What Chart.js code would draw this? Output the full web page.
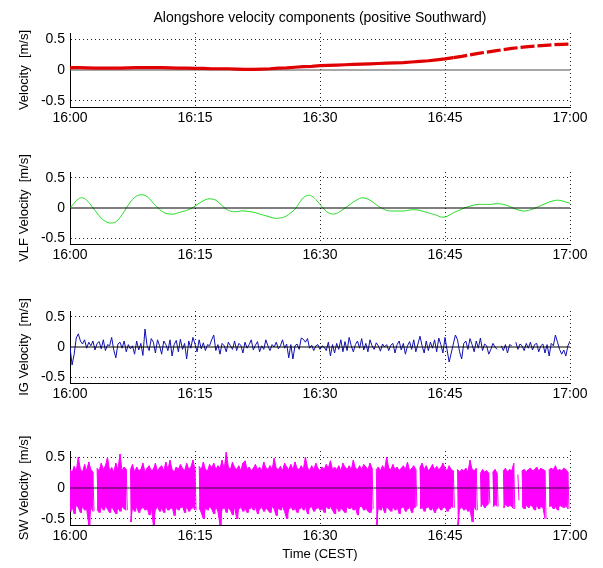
<!DOCTYPE html>
<html>
<head>
<meta charset="utf-8">
<script src="https://cdn.jsdelivr.net/npm/chart.js@4.4.1/dist/chart.umd.min.js"></script>
<style>
html,body{margin:0;padding:0;background:#fff;}
#wrap{position:relative;width:603px;height:568px;overflow:hidden;background:#fff;}
canvas{position:absolute;left:0;}
</style>
</head>
<body>
<div id="wrap">
<canvas id="c1" width="603" height="140" style="top:0px"></canvas>
<canvas id="c2" width="603" height="140" style="top:139px"></canvas>
<canvas id="c3" width="603" height="140" style="top:278px"></canvas>
<canvas id="c4" width="603" height="150" style="top:418px"></canvas>
</div>
<script>
// ---------- DATA ----------
const chartTitle = 'Alongshore velocity components (positive Southward)';
const timeLabels = ['16:00','16:15','16:30','16:45','17:00'];
const timeTickMinutes = [0, 15, 30, 45, 60];
const yTickValues = [-0.5, 0, 0.5];
const zeroLevel = 0;

// Mean alongshore velocity, one value per minute (16:00..17:00)
const velMean = [0.04,0.04,0.035,0.03,0.03,0.03,0.03,0.035,0.04,0.04,
 0.04,0.04,0.035,0.03,0.03,0.025,0.025,0.02,0.02,0.02,
 0.015,0.01,0.01,0.015,0.02,0.03,0.035,0.045,0.055,0.06,
 0.07,0.075,0.08,0.085,0.09,0.095,0.10,0.105,0.11,0.115,
 0.12,0.13,0.14,0.15,0.165,0.18,0.20,0.22,0.245,0.27,
 0.29,0.31,0.33,0.35,0.365,0.38,0.39,0.40,0.41,0.415,0.42];

// VLF velocity, one value per half minute
const velVLF = [0.0,0.08,0.15,0.17,0.13,0.05,-0.04,-0.13,-0.20,-0.24,
 -0.25,-0.23,-0.16,-0.06,0.05,0.14,0.20,0.22,0.21,0.16,
 0.08,0.01,-0.05,-0.09,-0.10,-0.10,-0.08,-0.06,-0.04,-0.01,
 0.03,0.08,0.12,0.15,0.15,0.13,0.07,0.01,-0.04,-0.06,
 -0.06,-0.05,-0.05,-0.06,-0.07,-0.09,-0.11,-0.13,-0.15,-0.17,
 -0.17,-0.16,-0.13,-0.08,-0.02,0.08,0.17,0.21,0.20,0.14,
 0.06,-0.02,-0.08,-0.10,-0.09,-0.05,0.00,0.05,0.10,0.14,
 0.17,0.16,0.13,0.08,0.03,-0.01,-0.04,-0.05,-0.05,-0.05,
 -0.05,-0.04,-0.03,-0.03,-0.04,-0.06,-0.08,-0.10,-0.12,-0.15,
 -0.15,-0.12,-0.08,-0.05,-0.02,0.01,0.03,0.05,0.06,0.06,
 0.06,0.06,0.07,0.07,0.06,0.04,0.01,-0.02,-0.04,-0.05,
 -0.04,-0.02,0.01,0.04,0.07,0.10,0.12,0.13,0.12,0.10,0.08];

// IG velocity, one value per quarter minute
const velIG = [
 0.00,-0.30,-0.12,0.15,  0.22,0.10,0.05,0.12,  -0.02,0.08,0.02,0.10,  -0.05,0.06,0.09,-0.03,
 0.12,-0.06,0.04,0.02,   0.16,-0.05,-0.18,0.05, 0.08,-0.02,0.10,-0.08,  0.04,-0.03,0.02,-0.12,
 0.10,-0.05,0.06,-0.14,  0.30,0.02,-0.06,0.14,  0.08,-0.10,0.12,0.02,   -0.12,0.10,0.04,-0.06,
 0.12,-0.15,0.04,0.11,   -0.08,0.13,-0.04,0.06, -0.20,0.10,-0.02,0.16,  0.05,-0.08,0.12,-0.03,
 0.07,-0.06,0.04,0.02,   0.12,0.20,-0.06,0.04,  -0.12,0.06,0.02,-0.08,  0.08,0.02,-0.04,0.10,
 -0.06,0.06,0.03,-0.10,  0.08,-0.02,0.04,0.12,  -0.05,0.03,0.09,-0.08,  0.02,-0.04,0.12,0.02,
 -0.06,0.04,0.00,0.08,   -0.03,0.02,0.12,-0.02, 0.05,-0.18,0.04,-0.20,  0.02,0.05,-0.04,0.15,
 0.13,0.08,0.14,-0.02,   0.03,-0.06,0.02,0.04,  -0.04,0.02,0.00,-0.06,  0.08,-0.15,0.04,-0.10,
 0.06,-0.04,0.12,-0.08,  0.09,-0.06,0.16,0.02,  -0.08,0.04,0.10,-0.02,  0.14,-0.05,0.06,-0.08,
 0.12,0.02,-0.04,0.07,   0.02,-0.07,0.05,0.00,  0.04,-0.06,0.03,0.06,   -0.10,0.04,0.10,-0.05,
 0.06,-0.12,0.02,0.09,   -0.04,0.12,-0.08,0.05, 0.18,0.02,-0.10,0.10,   -0.06,0.08,-0.02,0.12,
 -0.08,0.15,0.04,-0.10,  0.16,-0.05,-0.25,-0.10, 0.05,0.20,0.12,-0.08,  -0.20,0.06,0.10,-0.04,
 0.14,0.04,-0.08,0.10,   -0.02,0.15,-0.06,0.05, 0.02,-0.12,-0.04,0.06,  0.00,-0.04,null,0.02,
 -0.06,0.04,-0.10,0.04,  0.02,null,0.08,-0.04,  0.05,0.02,-0.06,0.06,   -0.02,0.08,-0.05,0.04,
 0.06,-0.08,0.02,0.05,   -0.10,0.04,-0.15,0.06, 0.02,0.20,0.08,-0.04,   -0.12,-0.05,-0.15,0.02,
 0.10];

// Short-wave velocity envelope, upper and lower extremes per quarter minute
const swHigh = [
 0.30,0.25,0.35,0.28, 0.50,0.30,0.26,0.38, 0.28,0.42,0.30,0.26, null,0.32,0.28,0.40,
 0.30,0.36,0.50,0.28, 0.33,0.26,0.40,0.30, 0.55,0.28,0.34,0.30, null,0.30,0.38,0.26,
 0.34,0.28,0.30,0.40, 0.26,0.32,0.36,0.28, 0.30,0.40,0.27,0.33, 0.36,0.28,0.42,0.30,
 0.45,0.30,0.26,0.34, 0.30,0.38,0.32,0.28, 0.40,0.30,0.34,0.45, 0.30,null,0.35,0.30,
 0.42,0.30,0.28,0.38, 0.33,0.40,0.30,0.36, 0.32,0.45,0.30,0.58, 0.34,0.30,0.42,0.33,
 0.30,0.36,0.28,0.40, 0.44,0.30,0.34,0.28, 0.32,0.38,0.30,0.34, 0.28,0.42,0.33,0.30,
 0.36,0.30,0.48,0.32, 0.30,0.35,0.28,0.40, 0.34,0.30,0.38,0.30, 0.42,0.32,0.30,0.36,
 0.30,0.50,0.33,0.28, 0.36,0.30,0.40,0.32, 0.28,0.34,0.30,0.38, 0.32,0.44,0.30,0.34,
 0.30,0.36,0.28,0.40, 0.34,0.30,0.36,0.30, 0.45,0.32,0.30,0.36, 0.30,0.38,0.34,0.30,
 0.40,0.32,null,0.30, 0.34,0.28,0.36,0.30, 0.50,0.32,0.30,0.38, 0.30,0.34,0.28,0.32,
 0.36,0.30,0.42,0.28, 0.32,0.36,0.30,null, 0.34,0.40,0.30,0.36, 0.28,0.32,0.38,0.30,
 0.35,0.30,0.33,0.40, 0.32,0.28,0.36,0.30, 0.28,null,0.30,0.26, 0.30,0.28,0.32,0.26,
 0.45,0.30,0.28,0.32, null,0.24,0.30,0.26, 0.28,0.24,null,0.26, 0.30,0.24,null,null,
 0.28,0.32,0.26,0.30, 0.28,0.40,null,0.22, null,0.28,0.30,0.26, 0.30,0.32,0.28,0.30,
 0.34,0.28,0.32,0.30, 0.28,null,0.30,0.32, 0.30,0.36,0.28,0.30, 0.28,0.32,0.30,0.26];
const swLow = [
 -0.38,-0.30,-0.42,-0.28, -0.32,-0.40,-0.30,-0.36, -0.34,-0.60,-0.30,-0.38, null,-0.35,-0.40,-0.30,
 -0.36,-0.30,-0.34,-0.40, -0.30,-0.36,-0.42,-0.32, -0.38,-0.30,-0.34,-0.36, null,-0.55,-0.32,-0.38,
 -0.30,-0.40,-0.34,-0.30, -0.36,-0.32,-0.44,-0.30, -0.60,-0.34,-0.30,-0.38, -0.32,-0.40,-0.30,-0.36,
 -0.34,-0.30,-0.45,-0.32, -0.36,-0.32,-0.30,-0.40, -0.30,-0.38,-0.34,-0.30, -0.36,null,-0.32,-0.40,
 -0.50,-0.32,-0.36,-0.30, -0.34,-0.42,-0.30,-0.38, -0.60,-0.34,-0.30,-0.40, -0.32,-0.36,-0.44,-0.30,
 -0.50,-0.34,-0.30,-0.38, -0.32,-0.40,-0.34,-0.30, -0.36,-0.30,-0.42,-0.34, -0.30,-0.38,-0.32,-0.36,
 -0.40,-0.30,-0.34,-0.45, -0.32,-0.36,-0.30,-0.38, -0.50,-0.34,-0.30,-0.36, -0.32,-0.40,-0.34,-0.30,
 -0.36,-0.30,-0.42,-0.32, -0.30,-0.38,-0.34,-0.30, -0.36,-0.32,-0.40,-0.30, -0.34,-0.30,-0.36,-0.42,
 -0.30,-0.38,-0.32,-0.36, -0.40,-0.30,-0.34,-0.30, -0.36,-0.32,-0.44,-0.30, -0.30,-0.36,-0.32,-0.38,
 -0.40,-0.34,null,-0.60, -0.32,-0.36,-0.30,-0.40, -0.30,-0.34,-0.38,-0.30, -0.36,-0.30,-0.42,-0.32,
 -0.30,-0.38,-0.34,-0.30, -0.40,-0.32,-0.30,null, -0.34,-0.30,-0.38,-0.32, -0.30,-0.36,-0.32,-0.40,
 -0.34,-0.30,-0.36,-0.32, -0.30,-0.38,-0.34,-0.30, -0.32,null,-0.60,-0.34, -0.30,-0.36,-0.32,-0.38,
 -0.34,-0.55,-0.30,-0.36, null,-0.30,-0.26,-0.32, -0.28,-0.24,null,-0.30, -0.26,-0.30,null,null,
 -0.32,-0.26,-0.30,-0.28, -0.30,-0.34,null,-0.20, null,-0.30,-0.34,-0.28, -0.32,-0.28,-0.30,-0.36,
 -0.28,-0.34,-0.30,-0.32, -0.50,null,-0.30,-0.28, -0.34,-0.30,-0.36,-0.28, -0.30,-0.32,-0.28,-0.34];

// ---------- BUILD ----------
const FONT = "'Liberation Sans', Arial, Helvetica, sans-serif";
const toXY = (arr, step) => arr.map((v, i) => ({x: i * step, y: v}));
const swData = [];
swHigh.forEach((h, i) => {
  swData.push({x: i * 0.25, y: h});
  swData.push({x: i * 0.25 + 0.125, y: swLow[i]});
});
const zeroData = [{x: timeTickMinutes[0], y: zeroLevel}, {x: timeTickMinutes[timeTickMinutes.length - 1], y: zeroLevel}];

function zeroSet(color, order) {
  return {data: zeroData, borderColor: color, borderWidth: 1.2, pointRadius: 0, order: order};
}

function makePanel(id, cfg) {
  return new Chart(document.getElementById(id), {
    type: 'line',
    data: {datasets: cfg.datasets},
    options: {
      responsive: false,
      animation: false,
      events: [],
      layout: {padding: {top: cfg.title ? 0 : 33, right: 33, left: 0, bottom: 0}},
      plugins: {
        legend: {display: false},
        tooltip: {enabled: false},
        title: cfg.title ? {
          display: true, text: cfg.title, fullSize: false, color: '#000',
          font: {family: FONT, size: 14, weight: 'normal', lineHeight: 1.2},
          padding: {top: 9.5, bottom: 6.7}
        } : {display: false}
      },
      scales: {
        x: {
          type: 'linear', min: 0, max: 60,
          afterBuildTicks: s => { s.ticks = timeTickMinutes.map(v => ({value: v})); },
          afterFit: s => { s.height = cfg.axisH; },
          ticks: {autoSkip: false, maxRotation: 0, padding: 3, color: '#000',
            font: {family: FONT, size: 14}, callback: (v, i) => timeLabels[i]},
          grid: {drawTicks: false, lineWidth: 1,
            color: c => (c.tick && c.tick.value > 0) ? '#222' : 'rgba(0,0,0,0)'},
          border: {display: true, color: '#000', width: 1, dash: [1, 3]},
          title: cfg.xTitle ? {display: true, text: cfg.xTitle, color: '#000',
            font: {family: FONT, size: 13}, padding: {top: 0, bottom: 6}} : {display: false}
        },
        y: {
          type: 'linear', min: -0.6, max: 0.6,
          afterBuildTicks: s => { s.ticks = yTickValues.map(v => ({value: v})); },
          afterFit: s => { s.width = 70; },
          ticks: {padding: 5, color: '#000', font: {family: FONT, size: 14},
            callback: v => String(v)},
          grid: {drawTicks: false, lineWidth: 1,
            color: c => (c.tick && c.tick.value !== 0) ? '#222' : 'rgba(0,0,0,0)'},
          border: {display: true, color: '#000', width: 1, dash: [1, 3]},
          title: {display: true, text: cfg.yTitle, color: '#000',
            font: {family: FONT, size: 13}, padding: {top: 17, bottom: 0}}
        }
      }
    }
  });
}

makePanel('c1', {
  title: chartTitle, yTitle: 'Velocity  [m/s]', axisH: 33,
  datasets: [
    {data: toXY(velMean, 1), borderColor: '#e00000', borderWidth: 3.2, pointRadius: 0, order: 1,
     segment: {borderDash: c => c.p0.parsed.x >= 46 ? [14, 3] : undefined}},
    zeroSet('#505050', 2)
  ]
});
makePanel('c2', {
  yTitle: 'VLF Velocity  [m/s]', axisH: 35,
  datasets: [
    {data: toXY(velVLF, 0.5), borderColor: '#22dd22', borderWidth: 1, pointRadius: 0, tension: 0.4, order: 2},
    zeroSet('#000', 1)
  ]
});
makePanel('c3', {
  yTitle: 'IG Velocity  [m/s]', axisH: 35,
  datasets: [
    {data: toXY(velIG, 0.25), borderColor: '#1010b0', borderWidth: 1, pointRadius: 0, order: 2},
    zeroSet('#000', 1)
  ]
});
makePanel('c4', {
  yTitle: 'SW Velocity  [m/s]', xTitle: 'Time (CEST)', axisH: 43,
  datasets: [
    {data: toXY(swHigh, 0.25), borderColor: '#ff00ff', borderWidth: 1, pointRadius: 0,
     fill: '+1', backgroundColor: '#ff00ff', order: 3},
    {data: toXY(swLow, 0.25), borderColor: '#ff00ff', borderWidth: 1, pointRadius: 0, order: 3},
    {data: swData, borderColor: '#ff00ff', borderWidth: 1, pointRadius: 0, order: 2},
    zeroSet('#3a0a3a', 1)
  ]
});
</script>
</body>
</html>
